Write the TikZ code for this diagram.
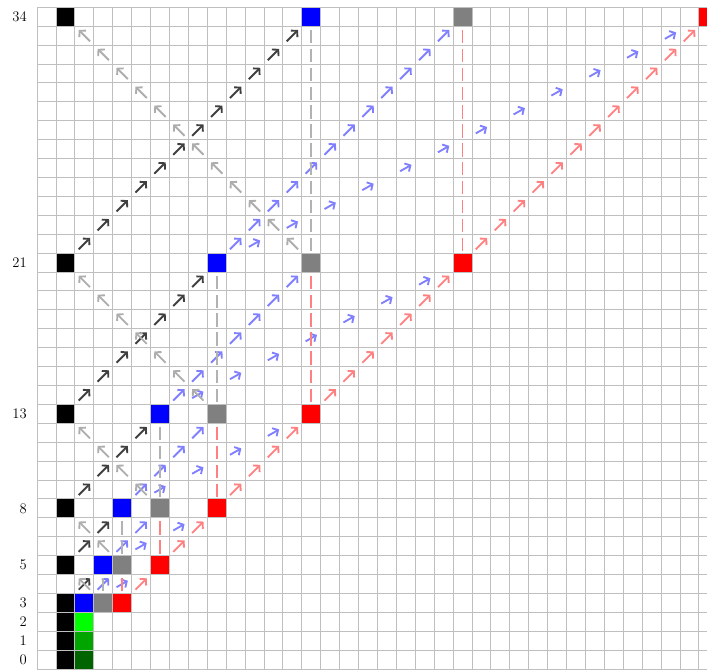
\documentclass[tikz,border=0pt]{standalone}
\usetikzlibrary{arrows.meta}
\definecolor{gA}{RGB}{0,100,0}
\definecolor{gB}{RGB}{0,165,0}
\definecolor{gC}{RGB}{0,255,0}
\begin{document}
\begin{tikzpicture}[x=0.5cm,y=0.5cm,
  sq/.style={minimum size=0.5cm, inner sep=0pt, outer sep=0pt, draw=none},
  gridline/.style={draw=black!25, line width=0.7pt},
  arr/.style={line width=1.4pt, -{Straight Barb[length=3.2pt,width=7pt]}},
  darkarr/.style={arr, draw=black!75},
  grayarr/.style={arr, draw=black!32},
  bluearr/.style={arr, draw=blue!50},
  redarr/.style={arr, draw=red!50},
  dashln/.style={line width=1.4pt, dash pattern=on 10pt off 4.23pt, shorten >=1.5pt, shorten <=1.5pt},
  graydash/.style={dashln, draw=black!30},
  reddash/.style={dashln, draw=red!50},
  rowlabel/.style={anchor=east, inner sep=0pt, font=\fontsize{11}{13}\selectfont}
]
\clip (-1.962,0) rectangle (35.43,35.386);
% black column
\foreach \r in {0,1,2,3,5,8,13,21,34}
  \node[sq, fill=black] (k\r) at (1.5,\r+0.5) {};
% greens
\node[sq, fill=gA] (n0) at (2.5,0.5) {};
\node[sq, fill=gB] (n1) at (2.5,1.5) {};
\node[sq, fill=gC] (n2) at (2.5,2.5) {};
% blue / gray / red squares
\foreach \r/\a/\b/\c in {3/1/2/3, 5/2/3/5, 8/3/5/8, 13/5/8/13, 21/8/13/21, 34/13/21/34} {
  \node[sq, fill=blue] (b\r) at (\a+1.5,\r+0.5) {};
  \node[sq, fill=black!50] (g\r) at (\b+1.5,\r+0.5) {};
  \node[sq, fill=red] (r\r) at (\c+1.5,\r+0.5) {};
}
% grid
\draw[gridline, step=0.5cm] (0,0) grid (36,35);
% row labels
\foreach \r in {0,1,2,3,5,8,13,21,34}
  \node[rowlabel] (l\r) at (-0.53,\r+0.5) {\r};
% arrows between levels
\foreach \p/\q in {3/5, 5/8, 8/13, 13/21, 21/34} {
  \pgfmathtruncatemacro{\m}{\q-\p}
  \pgfmathtruncatemacro{\mm}{\m-1}
  \foreach \i in {1,...,\mm} {
    \draw[darkarr] (\i+1.2, \p+\i+0.2) -- ++(0.6,0.6);
    \draw[bluearr] (\p-\m+\i+1.2, \p+\i+0.2) -- ++(0.6,0.6);
    \draw[bluearr] (\p-\m+2*\i+1.2, \p+\i+0.33) -- ++(0.6,0.34);
    \draw[grayarr] (\m-\i+1.8, \p+\i+0.2) -- ++(-0.6,0.6);
    \draw[redarr] (\p+\i+1.2, \p+\i+0.2) -- ++(0.6,0.6);
  }
  \draw[graydash] (g\p.north) -- (b\q.south);
  \draw[reddash] (r\p.north) -- (g\q.south);
}
\end{tikzpicture}
\end{document}
